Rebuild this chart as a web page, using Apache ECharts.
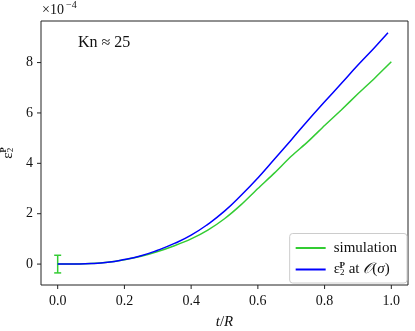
<!DOCTYPE html>
<html>
<head>
<meta charset="utf-8">
<script src="https://cdn.jsdelivr.net/npm/echarts@6/dist/echarts.min.js"></script>
<style>
  html, body { margin: 0; padding: 0; background: #fff; }
  #main { width: 415px; height: 331px; }
</style>
</head>
<body>
<div id="main"></div>
<script>
// values in units of 1e-4
const tSim = [0, 0.05, 0.1, 0.15, 0.2, 0.25, 0.3, 0.35, 0.4, 0.45, 0.5, 0.55, 0.6, 0.65, 0.7, 0.75, 0.8, 0.85, 0.9, 0.95, 1.0];
const simVals = [0, 0.005, 0.02, 0.07, 0.17, 0.31, 0.5, 0.73, 1.0, 1.35, 1.8, 2.36, 3.0, 3.62, 4.28, 4.86, 5.5, 6.12, 6.76, 7.38, 8.03];
const tTheory = [0, 0.05, 0.1, 0.15, 0.2, 0.25, 0.3, 0.35, 0.4, 0.45, 0.5, 0.55, 0.6, 0.65, 0.7, 0.75, 0.8, 0.85, 0.9, 0.95, 0.99];
const theoryVals = [0, 0.005, 0.02, 0.07, 0.18, 0.33, 0.55, 0.82, 1.15, 1.58, 2.1, 2.73, 3.42, 4.17, 4.93, 5.7, 6.44, 7.17, 7.9, 8.6, 9.18];
const errT = [0];
const errLow = [-0.35];
const errHigh = [0.35];
const xTicks = [0, 0.2, 0.4, 0.6, 0.8, 1.0];
const yTicks = [0, 2, 4, 6, 8];

const xMin = -0.05, xMax = 1.05;
const yMin = -0.83, yMax = 9.65;

const serif = '"Liberation Serif", "DejaVu Serif", serif';
const ink = '#111';
const chart = echarts.init(document.getElementById('main'));

const zip = (a, b) => a.map((v, i) => [v, b[i]]);

// outward ticks drawn through the axis scales
const tickSeries = (values, isX) => ({
  type: 'custom',
  silent: true,
  clip: false,
  data: values.map(v => [v]),
  encode: isX ? { x: 0 } : { y: 0 },
  renderItem: (params, api) => {
    const v = api.value(0);
    const p = isX ? api.coord([v, yMin]) : api.coord([xMin, v]);
    const len = 4;
    const shape = isX
      ? { x1: p[0], y1: p[1], x2: p[0], y2: p[1] + len }
      : { x1: p[0], y1: p[1], x2: p[0] - len, y2: p[1] };
    return { type: 'line', shape, style: { stroke: '#222', lineWidth: 1 } };
  },
  z: 1
});

chart.setOption({
  animation: false,
  backgroundColor: '#fff',
  textStyle: { fontFamily: serif },
  grid: {
    left: 41, right: 7, top: 21, bottom: 46,
    outerBoundsMode: 'none',
    containLabel: false,
    show: true, borderColor: '#222', borderWidth: 1, backgroundColor: 'transparent'
  },
  xAxis: {
    type: 'value',
    min: xMin, max: xMax,
    splitLine: { show: false },
    axisLine: { show: false, onZero: false },
    axisTick: { show: false },
    axisLabel: {
      color: ink, fontSize: 14, fontFamily: serif, margin: 9,
      customValues: xTicks,
      formatter: v => v.toFixed(1)
    },
    name: '{i|t}{n|/}{i|R}',
    nameLocation: 'middle',
    nameGap: 30,
    nameTextStyle: {
      rich: {
        i: { fontStyle: 'italic', fontSize: 15, fontFamily: serif, color: ink },
        n: { fontSize: 15, fontFamily: serif, color: ink }
      }
    }
  },
  yAxis: {
    type: 'value',
    min: yMin, max: yMax,
    splitLine: { show: false },
    axisLine: { show: false, onZero: false },
    axisTick: { show: false },
    axisLabel: {
      color: ink, fontSize: 14, fontFamily: serif, margin: 8,
      customValues: yTicks
    },
    name: '{e|ε}{s|2}{p|P}',
    nameLocation: 'middle',
    nameRotate: 90,
    nameGap: 19,
    nameTextStyle: {
      rich: {
        e: { fontSize: 15, fontFamily: serif, color: ink },
        s: { fontSize: 9, fontFamily: serif, color: ink, padding: [6, 0, 0, 0] },
        p: { fontSize: 9, fontWeight: 'bold', fontFamily: serif, color: ink, padding: [0, 0, 7, -5] }
      }
    }
  },
  legend: {
    right: 8, bottom: 48,
    orient: 'vertical',
    backgroundColor: 'rgba(255,255,255,0.8)',
    borderColor: '#ccc', borderWidth: 1, borderRadius: 3,
    padding: [7, 10, 6, 6],
    itemGap: 6,
    itemWidth: 30, itemHeight: 2,
    icon: 'rect',
    data: ['simulation', 'theory'],
    formatter: name => name === 'simulation' ? '{t|simulation}' : '{t|ε}{s|2}{p|P}{t| at }{c|𝒪}{t|(}{i|σ}{t|)}',
    textStyle: {
      color: ink, fontSize: 15, fontFamily: serif, padding: [0, 0, 0, 3],
      rich: {
        t: { fontSize: 15, fontFamily: serif, color: ink },
        i: { fontSize: 15, fontStyle: 'italic', fontFamily: serif, color: ink },
        c: { fontSize: 15, fontStyle: 'italic', fontFamily: serif, color: ink },
        s: { fontSize: 9, fontFamily: serif, color: ink, padding: [6, 0, 0, 0] },
        p: { fontSize: 9, fontWeight: 'bold', fontFamily: serif, color: ink, padding: [0, 0, 7, -5] }
      }
    }
  },
  graphic: [
    {
      type: 'text', left: 42, top: 3,
      style: { text: '×10', font: '14px ' + serif, fill: ink }
    },
    {
      type: 'text', left: 66, top: 0,
      style: { text: '−4', font: '10px ' + serif, fill: ink }
    },
    {
      type: 'text', left: 78, top: 35,
      style: { text: 'Kn ≈ 25', font: '16px ' + serif, fill: ink }
    }
  ],
  series: [
    tickSeries(xTicks, true),
    tickSeries(yTicks, false),
    {
      name: 'simulation',
      type: 'line',
      data: zip(tSim, simVals),
      showSymbol: false,
      smooth: 0.2,
      itemStyle: { color: '#33cc33' },
      lineStyle: { color: '#33cc33', width: 1.5 },
      z: 2
    },
    {
      name: 'errorbar',
      type: 'custom',
      data: errT.map((t, i) => [t, errLow[i], errHigh[i]]),
      renderItem: (params, api) => {
        const lo = api.coord([api.value(0), api.value(1)]);
        const hi = api.coord([api.value(0), api.value(2)]);
        const cap = 3.5;
        const style = { stroke: '#33cc33', lineWidth: 1.5 };
        return {
          type: 'group',
          children: [
            { type: 'line', shape: { x1: lo[0], y1: lo[1], x2: hi[0], y2: hi[1] }, style },
            { type: 'line', shape: { x1: lo[0] - cap, y1: lo[1], x2: lo[0] + cap, y2: lo[1] }, style },
            { type: 'line', shape: { x1: hi[0] - cap, y1: hi[1], x2: hi[0] + cap, y2: hi[1] }, style }
          ]
        };
      },
      z: 2
    },
    {
      name: 'theory',
      type: 'line',
      data: zip(tTheory, theoryVals),
      showSymbol: false,
      smooth: true,
      itemStyle: { color: '#0000ff' },
      lineStyle: { color: '#0000ff', width: 1.5 },
      z: 3
    }
  ]
});
</script>
</body>
</html>
